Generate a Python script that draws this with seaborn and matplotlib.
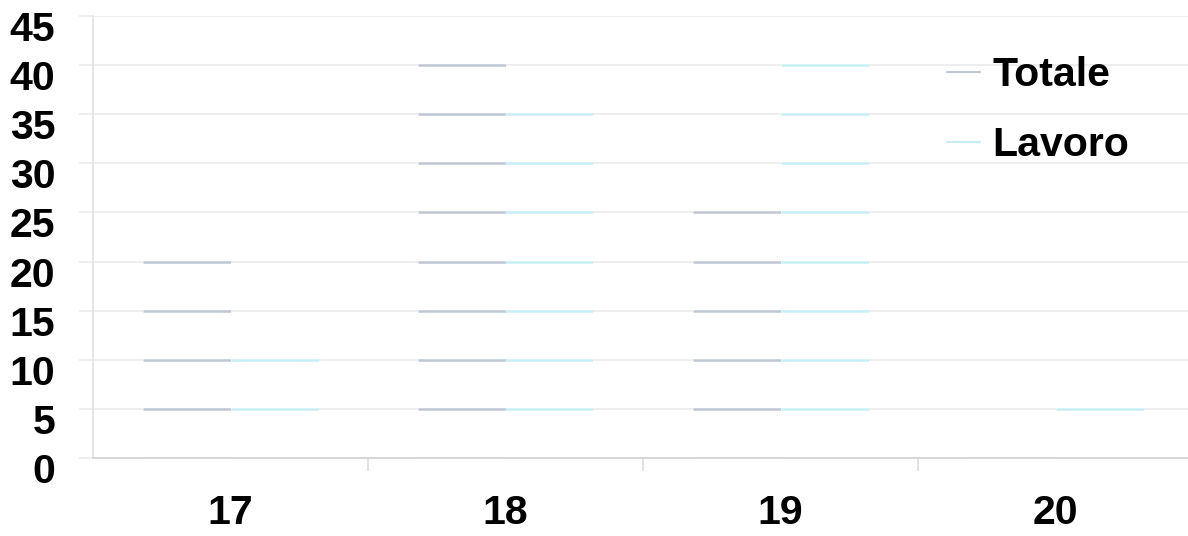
import pandas as pd
import matplotlib
matplotlib.use("Agg")
import matplotlib.pyplot as plt
from matplotlib.lines import Line2D
from matplotlib.transforms import ScaledTranslation
import seaborn as sns

# Values (bars only show through their tinted gridlines)
eta = ["17", "18", "19", "20"]
serie = ["Totale", "Lavoro"]
totale = [22, 42, 27, 3]
lavoro = [12, 37, 42, 7]
y_ticks = [0, 5, 10, 15, 20, 25, 30, 35, 40, 45]

colori = {"Totale": "#bfc7d3", "Lavoro": "#c6eef5"}

df = pd.DataFrame({
    "eta": eta * 2,
    "serie": ["Totale"] * len(eta) + ["Lavoro"] * len(eta),
    "valore": totale + lavoro,
})

sns.set_style("white")
plt.rcParams["font.family"] = ["Liberation Sans", "DejaVu Sans"]
fs = 29.5

fig = plt.figure(figsize=(11.88, 5.36), dpi=100)
ax = fig.add_axes([93 / 1188, 78 / 536, 1 - 93 / 1188, (458 - 16) / 536])

ax.set_axisbelow(True)
ax.yaxis.grid(True, color="#ebebeb", linewidth=1.2, zorder=0)

sns.barplot(
    data=df,
    x="eta",
    y="valore",
    hue="serie",
    hue_order=serie,
    palette=["white", "white"],
    width=0.64,
    linewidth=0,
    errorbar=None,
    legend=False,
    ax=ax,
    zorder=1,
)

# gridlines tinted inside each bar
for nome, cont in zip(serie, ax.containers):
    for patch in cont:
        x0 = patch.get_x()
        x1 = x0 + patch.get_width()
        lc = ax.hlines(y_ticks, x0, x1, colors=colori[nome], linewidth=1.8, zorder=2)
        lc.set_clip_path(patch)

ax.set_ylim(0, 45)
ax.set_xlim(-0.5, -0.5 + 1095 / 275)
ax.set_yticks(y_ticks)
ax.set_xlabel("")
ax.set_ylabel("")

for s in ["top", "right"]:
    ax.spines[s].set_visible(False)
ax.spines["left"].set_color("#e2e2e2")
ax.spines["bottom"].set_color("#d6d6d6")
ax.spines["left"].set_linewidth(1.2)
ax.spines["bottom"].set_linewidth(1.4)

ax.set_xticks([0.5, 1.5, 2.5], minor=True)
ax.tick_params(axis="x", which="major", bottom=True, length=0, pad=26, labelsize=fs)
ax.tick_params(axis="x", which="minor", bottom=True, length=9, width=1.2, color="#dddddd", direction="out")
ax.tick_params(axis="y", left=True, length=10, width=1.2, color="#ebebeb", direction="out", pad=17, labelsize=fs)

for lab in ax.get_xticklabels() + ax.get_yticklabels():
    lab.set_fontweight("bold")
    lab.set_color("black")
for lab in ax.get_yticklabels():
    lab.set_transform(lab.get_transform() + ScaledTranslation(0, -0.1, fig.dpi_scale_trans))

handles = [Line2D([], [], color=colori[n], linewidth=1.5) for n in serie]
leg = ax.legend(
    handles, serie,
    loc="upper left",
    bbox_to_anchor=(927 / 1188, 1 - 36 / 536),
    bbox_transform=fig.transFigure,
    frameon=False,
    handlelength=0.8,
    handletextpad=0.3,
    labelspacing=0.78,
    borderpad=0,
    prop={"weight": "bold", "size": fs},
)
for t in leg.get_texts():
    t.set_color("black")

plt.savefig("out.png", dpi=100)
plt.close()
